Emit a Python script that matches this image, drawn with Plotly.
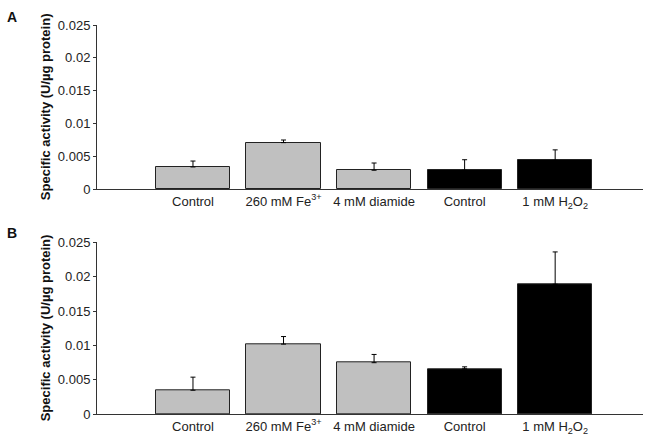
import plotly.graph_objects as go

# categories (positions 1..5 on a numeric axis)
categories = ["Control", "260 mM Fe<sup>3+</sup>", "4 mM diamide", "Control", "1 mM H<sub>2</sub>O<sub>2</sub>"]
positions = [1, 2, 3, 4, 5]
bar_colors = ["#c0c0c0", "#c0c0c0", "#c0c0c0", "#000000", "#000000"]

# panel A
values_a = [0.0034, 0.0071, 0.0029, 0.0029, 0.0044]
errors_a = [0.0009, 0.0004, 0.0011, 0.0016, 0.0016]

# panel B
values_b = [0.0035, 0.0102, 0.0075, 0.0066, 0.0189]
errors_b = [0.0019, 0.0011, 0.0012, 0.0003, 0.0047]

ytick_vals = [0, 0.005, 0.01, 0.015, 0.02, 0.025]
ytick_text = ["0", "0.005", "0.01", "0.015", "0.02", "0.025"]

W, H = 648, 442
font = "Liberation Sans, Arial, sans-serif"


def px(x):
    return x / W


def py(y):
    return 1 - y / H


fig = go.Figure()

panels = [
    (values_a, errors_a, "x", "y"),
    (values_b, errors_b, "x2", "y2"),
]
for vals, errs, xa, ya in panels:
    fig.add_trace(go.Bar(
        x=positions, y=vals, width=0.82,
        marker=dict(color=bar_colors, line=dict(color="#222222", width=1)),
        error_y=dict(type="data", array=errs, arrayminus=[0] * len(errs),
                     symmetric=False, color="#000000", thickness=1, width=2.5),
        xaxis=xa, yaxis=ya, showlegend=False,
    ))

xcommon = dict(
    range=[-0.06, 5.97], tickvals=positions, ticktext=categories,
    showline=True, linecolor="#333333", linewidth=1, ticks="",
    showgrid=False, zeroline=False, fixedrange=True,
    tickfont=dict(family=font, size=13, color="#222222"),
    domain=[px(97), px(643)],
)
ycommon = dict(
    range=[0, 0.025], tickvals=ytick_vals, ticktext=ytick_text,
    showline=True, linecolor="#333333", linewidth=1,
    ticks="outside", ticklen=3, tickcolor="#333333",
    showgrid=False, zeroline=False, fixedrange=True,
    tickfont=dict(family=font, size=13, color="#222222"),
)

fig.update_layout(
    width=W, height=H,
    margin=dict(l=0, r=0, t=0, b=0, autoexpand=False),
    plot_bgcolor="white", paper_bgcolor="white",
    bargap=0,
    xaxis=dict(**xcommon, anchor="y"),
    xaxis2=dict(**xcommon, anchor="y2"),
    yaxis=dict(**ycommon, anchor="x", domain=[py(189.3), py(25)]),
    yaxis2=dict(**ycommon, anchor="x2", domain=[py(414.3), py(242.3)]),
)

ytitle = "<b>Specific activity (U/µg protein)</b>"
for yc in [(189.3 + 25) / 2, (414.3 + 242.3) / 2]:
    fig.add_annotation(
        text=ytitle, xref="paper", yref="paper", x=px(45), y=py(yc),
        textangle=-90, showarrow=False, xanchor="center", yanchor="middle",
        font=dict(family=font, size=13, color="#111111"),
    )

for label, yc in [("A", 16.7), ("B", 232.5)]:
    fig.add_annotation(
        text="<b>" + label + "</b>", xref="paper", yref="paper", x=px(12), y=py(yc),
        showarrow=False, xanchor="center", yanchor="middle",
        font=dict(family=font, size=14, color="#111111"),
    )

# drop the default page margin so the 648x442 figure fills the window exactly
fig.write_html("out.html", config={"displayModeBar": False},
               post_script="document.body.style.margin='0';")
